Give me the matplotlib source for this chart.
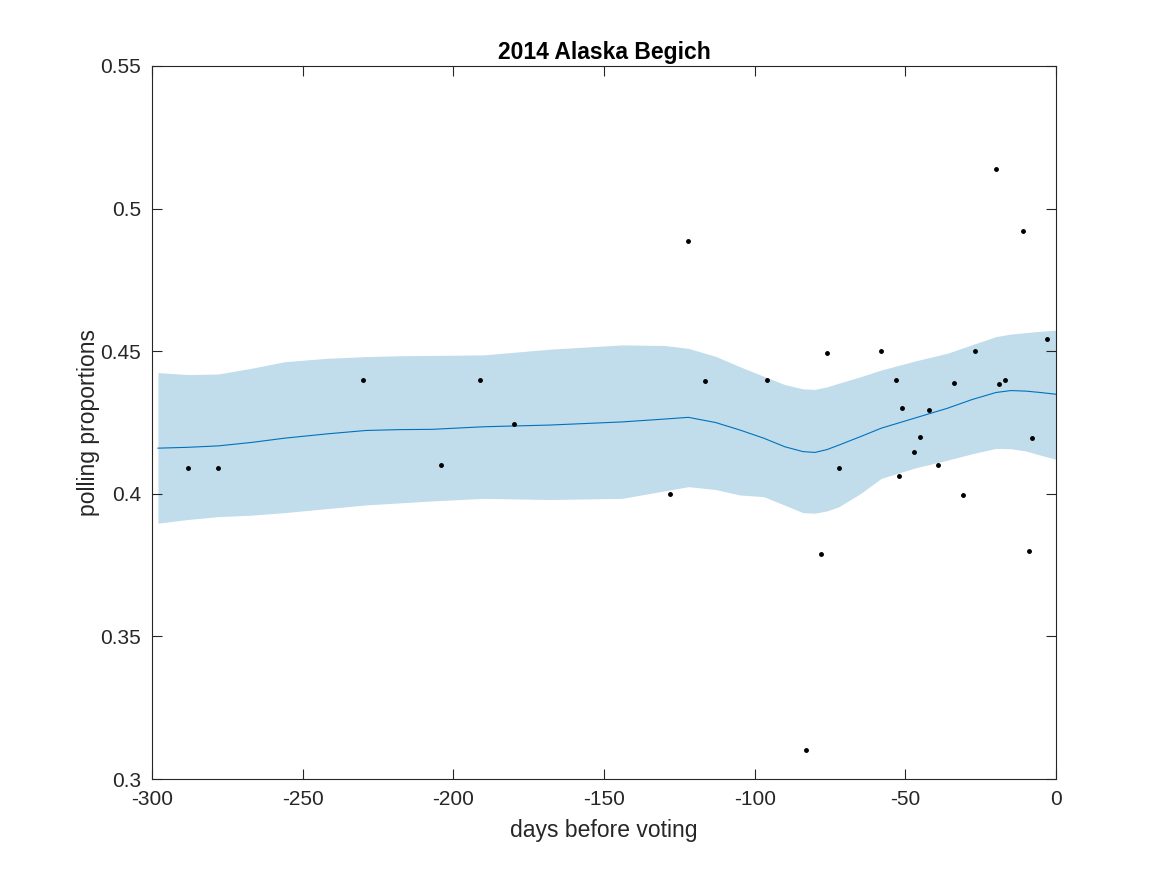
import numpy as np
import matplotlib.pyplot as plt

plt.rcParams['font.family'] = ['Liberation Sans', 'DejaVu Sans']
plt.rcParams['axes.unicode_minus'] = False

# polls: days before voting and proportion for Begich
dias = [-288, -278, -230, -204, -191, -180, -128, -122, -116.5, -96,
        -83, -78, -76, -72, -58, -53, -52, -51, -47, -45, -42, -39,
        -34, -31, -27, -20, -19, -17, -11, -9, -8, -3]
prop = [0.409, 0.409, 0.440, 0.410, 0.440, 0.4245, 0.400, 0.4886, 0.4396, 0.440,
        0.310, 0.3788, 0.4495, 0.409, 0.450, 0.440, 0.4061, 0.430, 0.4148, 0.420, 0.4295, 0.410,
        0.439, 0.3996, 0.450, 0.5138, 0.4386, 0.440, 0.4921, 0.3801, 0.4195, 0.4544]

# smoothed estimate and band
x_suave = [-298, -288, -278, -267, -256, -242, -229, -218, -207, -190, -168, -144, -130, -122, -113, -105,
           -97, -90, -84, -80, -76, -72, -65, -58, -47, -36, -28, -20, -15, -10, -5, 0]
media = [0.4160, 0.4163, 0.4168, 0.4180, 0.4195, 0.4210, 0.4222, 0.4225, 0.4226, 0.4235, 0.4241, 0.4252, 0.4262, 0.4268, 0.4250, 0.4224,
         0.4195, 0.4165, 0.4148, 0.4145, 0.4155, 0.4171, 0.4200, 0.4230, 0.4265, 0.4300, 0.4330, 0.4355, 0.4362, 0.4360, 0.4355, 0.4349]
superior = [0.4425, 0.4418, 0.4420, 0.4440, 0.4463, 0.4475, 0.4481, 0.4484, 0.4485, 0.4487, 0.4507, 0.4522, 0.4520, 0.4510, 0.4482, 0.4446,
            0.4412, 0.4383, 0.4368, 0.4366, 0.4375, 0.4388, 0.4410, 0.4434, 0.4465, 0.4493, 0.4522, 0.4551, 0.4560, 0.4565, 0.4570, 0.4574]
inferior = [0.3897, 0.3910, 0.3920, 0.3925, 0.3934, 0.3948, 0.3961, 0.3968, 0.3975, 0.3984, 0.3980, 0.3984, 0.4010, 0.4025, 0.4015, 0.3996,
            0.3990, 0.3960, 0.3934, 0.3932, 0.3940, 0.3955, 0.4000, 0.4054, 0.4090, 0.4118, 0.4140, 0.4159, 0.4158, 0.4150, 0.4135, 0.4121]

fig = plt.figure(figsize=(11.67, 8.75), dpi=100)
ax = fig.add_axes([0.1302, 0.1097, 0.7747, 0.8149])

ax.fill_between(x_suave, inferior, superior, color='#c1dceb', linewidth=0)
ax.plot(x_suave, media, color='#0072BD', linewidth=0.8)
ax.plot(dias, prop, 'k.', markersize=5)

ax.set_xlim(-300, 0)
ax.set_ylim(0.3, 0.55)
ax.set_xticks(np.arange(-300, 1, 50))
ax.set_yticks([0.3, 0.35, 0.4, 0.45, 0.5, 0.55])
ax.set_yticklabels(['0.3', '0.35', '0.4', '0.45', '0.5', '0.55'])
ax.tick_params(direction='in', top=True, right=True, length=7, width=0.8,
               labelsize=15, colors='#262626', pad=8)
for s in ax.spines.values():
    s.set_linewidth(0.8)
    s.set_color('#262626')

ax.set_xlabel('days before voting', fontsize=16.5, color='#262626', labelpad=7)
ax.set_ylabel('polling proportions', fontsize=16.5, color='#262626', labelpad=0)
ax.set_title('2014 Alaska Begich', fontsize=16.5, fontweight='bold', pad=5)

plt.savefig('out.png')
